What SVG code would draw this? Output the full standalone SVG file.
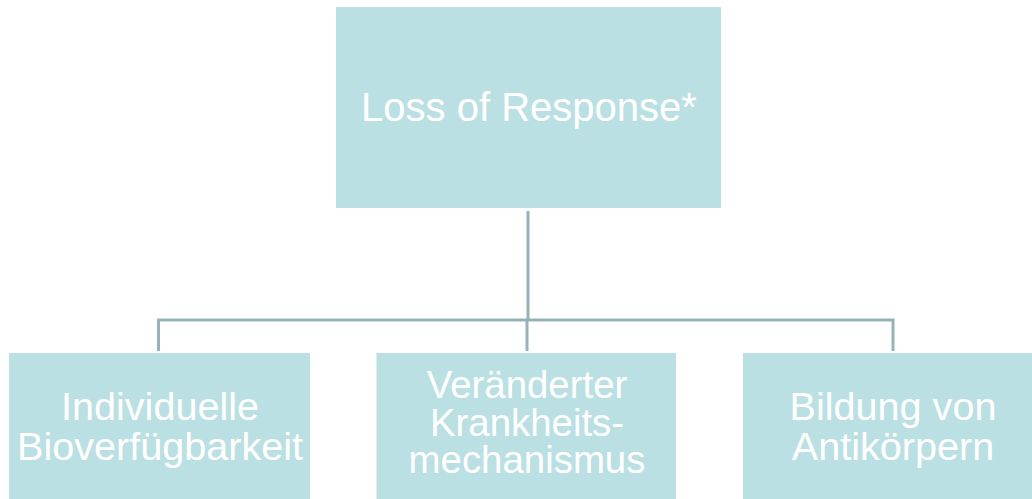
<svg xmlns="http://www.w3.org/2000/svg" width="1032" height="499" viewBox="0 0 1032 499">
<style>
.box{fill:#bbe0e3;}
.lbl{font-family:"Liberation Sans",Arial,sans-serif;fill:#ffffff;text-anchor:middle;}
.con{stroke:#96b3b6;stroke-width:3;fill:none;}
</style>
<rect width="1032" height="499" fill="#ffffff"/>
<g id="connectors">
<path class="con" d="M528,211 V320"/>
<path class="con" d="M158.5,351 V320 H893 V351"/>
<path class="con" d="M527,320 V351"/>
</g>
<g id="node-top">
<rect class="box" x="336" y="7" width="385" height="201"/>
<text class="lbl" x="529" y="121" font-size="40">Loss of Response*</text>
</g>
<g id="node-bio">
<rect class="box" x="9" y="353" width="301" height="146"/>
<text class="lbl" x="160" y="420" font-size="39.6">Individuelle</text>
<text class="lbl" x="160" y="460" font-size="39.6">Bioverfügbarkeit</text>
</g>
<g id="node-krank">
<rect class="box" x="376.5" y="353" width="299.5" height="146"/>
<text class="lbl" x="527" y="398" font-size="38.4">Veränderter</text>
<text class="lbl" x="527" y="436" font-size="38.4">Krankheits-</text>
<text class="lbl" x="527" y="473" font-size="38.4">mechanismus</text>
</g>
<g id="node-anti">
<rect class="box" x="743" y="353" width="300" height="146"/>
<text class="lbl" x="893" y="420" font-size="39.6">Bildung von</text>
<text class="lbl" x="893" y="460" font-size="39.6">Antikörpern</text>
</g>
</svg>
